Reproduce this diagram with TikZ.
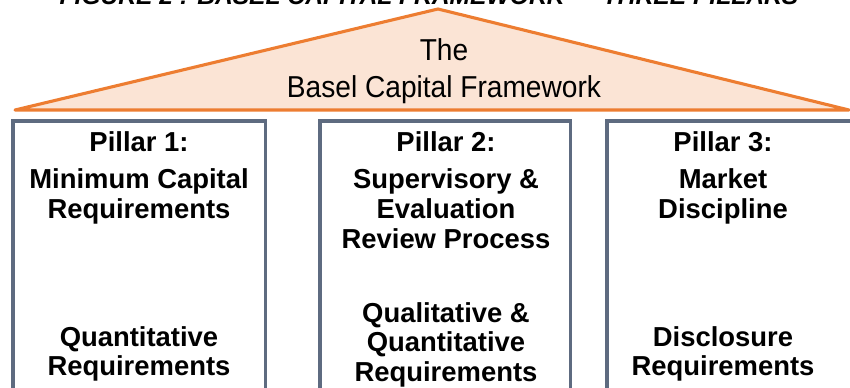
\documentclass[tikz,border=0pt]{standalone}
\usepackage{fontspec}
\setmainfont{Liberation Sans}
\usetikzlibrary{positioning}

\definecolor{roofline}{HTML}{ED7D31}
\definecolor{rooffill}{HTML}{FBE4D5}
\definecolor{pillarline}{HTML}{5E6B80}

\tikzset{
    roof/.style={draw=roofline, fill=rooffill, line width=2.2pt, line join=round},
    rooftext/.style={font=\fontsize{21.5}{24}\selectfont, anchor=base, inner sep=0pt, xscale=0.93},
    pillarbox/.style={draw=pillarline, line width=2.2pt, anchor=north west, inner sep=0pt, outer sep=0pt, minimum height=7cm},
    pillartext/.style={font=\fontsize{19.5}{21.2}\selectfont\bfseries, align=center, anchor=north, inner sep=0pt},
    figtitle/.style={font=\fontsize{17.5}{20}\selectfont\bfseries\itshape, anchor=base, inner sep=0pt}
}

\begin{document}
\begin{tikzpicture}[x=0.025cm, y=-0.025cm]
    \useasboundingbox (0,0) rectangle (850,388);
    \clip (0,0) rectangle (850,388);

    % caption, cut off at the top
    \node[figtitle] (caption) at (429,5) {FIGURE 2 : BASEL CAPITAL FRAMEWORK --- THREE PILLARS};

    % roof
    \path[roof] (15,110) coordinate (eaveL) -- (438,9) coordinate (apex) -- (849,110) coordinate (eaveR) -- cycle;
    \node[rooftext] (roofthe) at (444,60) {The};
    \node[rooftext] (roofname) at (444,97) {Basel Capital Framework};

    % pillars
    \node[pillarbox, minimum width=6.3cm] (pillarA) at (13,121) {};
    \node[pillarbox, minimum width=6.25cm] (pillarB) at (320,121) {};
    \node[pillarbox, minimum width=6.2cm] (pillarC) at (607,121) {};

    \node[pillartext] (headA) at (139,131) {Pillar 1:\\[0.2cm] Minimum Capital\\ Requirements};
    \node[pillartext] (headB) at (446,131) {Pillar 2:\\[0.2cm] Supervisory \&\\ Evaluation\\ Review Process};
    \node[pillartext] (headC) at (723,131) {Pillar 3:\\[0.2cm] Market\\ Discipline};

    \node[pillartext] (footA) at (139,326) {Quantitative\\ Requirements};
    \node[pillartext] (footB) at (446,302) {Qualitative \&\\ Quantitative\\ Requirements};
    \node[pillartext] (footC) at (723,326) {Disclosure\\ Requirements};
\end{tikzpicture}
\end{document}
